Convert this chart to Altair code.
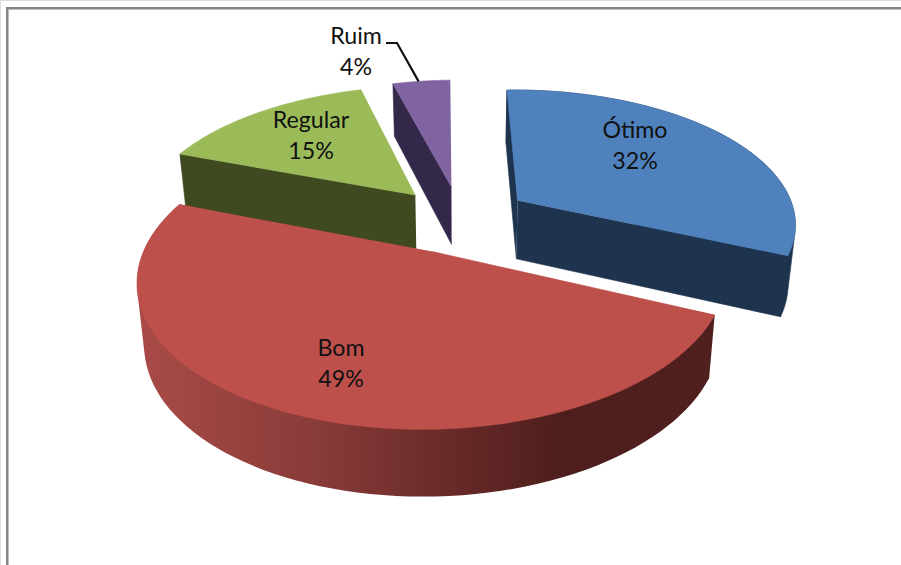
import math
import altair as alt
import pandas as pd

# Survey shares, in drawing order (clockwise from twelve o'clock)
names = ["Ótimo", "Bom", "Regular", "Ruim"]
shares = [32, 49, 15, 4]
top_colors = ["#4F81BD", "#BE504C", "#9BBB59", "#8064A2"]
side_colors = ["#1E334D", "#4F201E", "#3F4A21", "#33284A"]

# Camera model for the tilted disc
W, H = 901, 565
X0, Y0 = 460.5, 219.0
RX, RY = 278.5, 135.0
PERSP = 0.17
ROLL = -0.008
DEPTH, DEPTH_PERSP, FOOT_SHRINK = 59.0, 0.10, 0.978
EXPLODE = 0.25
FIRST_ANGLE = -0.6

# Label placement in chart pixels
label_x = [635, 341, 311, 356]
label_y = [131, 349, 121, 37]
LINE_GAP = 31


def project(u, v, lowered=False):
    s = 1.0 / (1.0 + PERSP * v)
    x = X0 + RX * u * s
    y = Y0 - RY * v * s + ROLL * (x - X0)
    if lowered:
        x = X0 + (x - X0) * FOOT_SHRINK
        y += DEPTH / (1.0 + DEPTH_PERSP * v)
    return x, y


slices = []
start = FIRST_ANGLE
total = sum(shares)
for share in shares:
    end = start + 360.0 * share / total
    mid = math.radians((start + end) / 2)
    slices.append(
        dict(start=start, end=end, ou=EXPLODE * math.sin(mid), ov=EXPLODE * math.cos(mid))
    )
    start = end


def rim(sl, a0=None, a1=None, n=80, lowered=False):
    a0 = sl["start"] if a0 is None else a0
    a1 = sl["end"] if a1 is None else a1
    pts = []
    for i in range(n + 1):
        a = math.radians(a0 + (a1 - a0) * i / n)
        pts.append(project(sl["ou"] + math.sin(a), sl["ov"] + math.cos(a), lowered))
    return pts


def apex(sl, lowered=False):
    return project(sl["ou"], sl["ov"], lowered)


def hull(points):
    # Monotone chain: the silhouette of a rim swept down to its foot
    pts = sorted(set(points))

    def half(seq):
        out = []
        for p in seq:
            while len(out) >= 2 and (
                (out[-1][0] - out[-2][0]) * (p[1] - out[-2][1])
                - (out[-1][1] - out[-2][1]) * (p[0] - out[-2][0])
            ) <= 0:
                out.pop()
            out.append(p)
        return out[:-1]

    return half(pts) + half(pts[::-1])


x_enc = alt.X("x:Q", scale=alt.Scale(domain=[0, W], nice=False, zero=False), axis=None)
y_enc = alt.Y("y:Q", scale=alt.Scale(domain=[H, 0], nice=False, zero=False), axis=None)


def polygon(points, fill, outline=True):
    df = pd.DataFrame(points, columns=["x", "y"])
    df["i"] = range(len(df))
    kw = dict(stroke=fill, strokeWidth=0.6) if outline else dict(strokeOpacity=0)
    return (
        alt.Chart(df)
        .mark_line(fill=fill, strokeJoin="round", **kw)
        .encode(x=x_enc, y=y_enc, order=alt.Order("i:Q"))
    )


def top_face(k):
    sl = slices[k]
    return polygon([apex(sl)] + rim(sl), top_colors[k])


def radial_face(k, angle):
    sl = slices[k]
    edge = rim(sl, angle, angle, n=1)[0]
    foot = rim(sl, angle, angle, n=1, lowered=True)[0]
    return polygon([apex(sl), edge, foot, apex(sl, True)], side_colors[k])


def wall(k, fill, outline=True):
    sl = slices[k]
    return polygon(hull(rim(sl) + rim(sl, lowered=True)), fill, outline)


bom_side = alt.Gradient(
    gradient="linear",
    x1=0, x2=1, y1=0, y2=0,
    stops=[
        alt.GradientStop(color="#A94B48", offset=0.0),
        alt.GradientStop(color="#8A3C39", offset=0.3),
        alt.GradientStop(color="#6E2D2B", offset=0.5),
        alt.GradientStop(color="#4D1E1C", offset=0.74),
        alt.GradientStop(color="#4F201E", offset=1.0),
    ],
)

# Frame: only the top and left sides are visible
frame = [
    alt.Chart(pd.DataFrame({"a": [0]})).mark_rule(color=c, strokeWidth=w).encode(
        x=alt.value(x1), x2=alt.value(x2), y=alt.value(y1), y2=alt.value(y2)
    )
    for c, w, x1, x2, y1, y2 in [
        ("#BEBEBE", 1, 8, W, 9.5, 9.5),
        ("#BEBEBE", 1, 8.5, 8.5, 9, H),
        ("#868686", 2, 6, W, 8, 8),
        ("#868686", 2, 7, 7, 7, H),
    ]
]

layers = list(frame)

# Back to front: Ruim, Regular, Ótimo, Bom
RUIM, REGULAR, OTIMO, BOM = 3, 2, 0, 1
layers += [radial_face(RUIM, slices[RUIM]["start"]), top_face(RUIM)]
layers += [radial_face(REGULAR, slices[REGULAR]["start"]), top_face(REGULAR)]
layers += [
    radial_face(OTIMO, slices[OTIMO]["start"]),
    wall(OTIMO, side_colors[OTIMO]),
    radial_face(OTIMO, slices[OTIMO]["end"]),
    top_face(OTIMO),
]
layers += [wall(BOM, bom_side, outline=False), top_face(BOM)]

# Leader from the Ruim label to the rim of its slice
ruim_sl = slices[RUIM]
tip_angle = ruim_sl["start"] + 0.45 * (ruim_sl["end"] - ruim_sl["start"])
tip = rim(ruim_sl, tip_angle, tip_angle, n=1)[0]
leader = pd.DataFrame({"x": [386, 397, tip[0]], "y": [43, 43, tip[1]], "i": [0, 1, 2]})
layers.append(
    alt.Chart(leader)
    .mark_line(color="#111111", strokeWidth=2.2)
    .encode(x=x_enc, y=y_enc, order=alt.Order("i:Q"))
)

# Category name and percentage, one line each
rows = []
for name, share, lx, ly in zip(names, shares, label_x, label_y):
    rows.append({"x": lx, "y": ly, "t": name})
    rows.append({"x": lx, "y": ly + LINE_GAP, "t": f"{share}%"})
layers.append(
    alt.Chart(pd.DataFrame(rows))
    .mark_text(font="Lato", fontSize=23.2, color="#111111", align="center", baseline="middle")
    .encode(x=x_enc, y=y_enc, text="t:N")
)

chart = (
    alt.layer(*layers)
    .properties(width=W, height=H, padding=0, autosize=alt.AutoSizeParams(type="none"))
    .configure_view(stroke=None)
    .configure(background="white")
)

chart.save("out.html", embed_options={"renderer": "svg", "actions": False})
